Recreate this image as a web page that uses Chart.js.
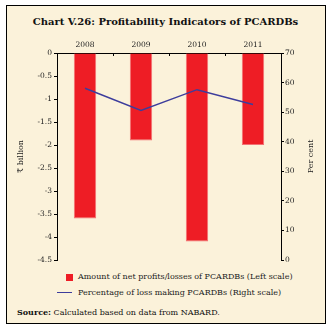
<!DOCTYPE html>
<html>
<head>
<meta charset="utf-8">
<title>Profitability Indicators of PCARDBs</title>
<script src="https://cdn.jsdelivr.net/npm/chart.js"></script>
<style>
    body { margin: 0; background: #fff; font-family: "DejaVu Serif", serif; }
    #box { position: absolute; left: 6px; top: 5px; width: 318px; height: 317px;
           border: 1px solid #000; background: #fbf2da; }
    #title { position: absolute; left: 0; top: 16px; width: 331px; text-align: center;
             font-weight: bold; font-size: 10px; color: #111; }
    #charts { position: absolute; left: 0; top: 0; }
    .leg { position: absolute; left: 78px; font-size: 8px; color: #222; line-height: 10px; }
    .swatch { position: absolute; }
    #source { position: absolute; left: 17px; top: 307px; font-size: 8px; color: #111; }
</style>
<script>
    // chart data
    const years = ['2008', '2009', '2010', '2011'];
    const netProfit = [-3.6, -1.9, -4.1, -2.0];        // ₹ billion, left scale
    const lossMakingPct = [58.1, 50.6, 57.6, 52.6];    // per cent, right scale
    const leftTicks = [0, -0.5, -1, -1.5, -2, -2.5, -3, -3.5, -4, -4.5];
    const rightTicks = [0, 10, 20, 30, 40, 50, 60, 70];

    const barLabel = 'Amount of net profits/losses of PCARDBs (Left scale)';
    const lineLabel = 'Percentage of loss making PCARDBs (Right scale)';
    const leftTitle = '₹ billion';
    const rightTitle = 'Per cent';

    const tickFont = { family: 'DejaVu Serif', size: 7.5 };

    // both axis titles read bottom to top
    const axisTitles = {
        id: 'axisTitles',
        afterDraw(chart) {
            const ctx = chart.ctx;
            const area = chart.chartArea;
            const midY = (area.top + area.bottom) / 2;
            ctx.save();
            ctx.fillStyle = '#222';
            ctx.font = '8px "DejaVu Serif"';
            ctx.textAlign = 'center';
            ctx.textBaseline = 'middle';
            [[21, leftTitle], [311, rightTitle]].forEach(function(t) {
                ctx.save();
                ctx.translate(t[0], midY);
                ctx.rotate(-Math.PI / 2);
                ctx.fillText(t[1], 0, 0);
                ctx.restore();
            });
            ctx.restore();
        }
    };

    function plainTick(value) {
        return String(value);
    }

    function createChart() {
        const ctx = document.getElementById('charts').getContext('2d');
        new Chart(ctx, {
            data: {
                labels: years,
                datasets: [{
                    type: 'line',
                    label: lineLabel,
                    data: lossMakingPct,
                    yAxisID: 'y1',
                    borderColor: '#3d3d9c',
                    borderWidth: 1.5,
                    pointRadius: 0,
                    tension: 0
                }, {
                    type: 'bar',
                    label: barLabel,
                    data: netProfit,
                    yAxisID: 'y',
                    backgroundColor: '#ee1d25',
                    borderColor: '#f27073',
                    borderWidth: 1,
                    barPercentage: 0.4,
                    categoryPercentage: 1
                }]
            },
            options: {
                responsive: false,
                animation: false,
                devicePixelRatio: 1,
                layout: { padding: { bottom: 10 } },
                plugins: { legend: { display: false }, tooltip: { enabled: false } },
                scales: {
                    x: {
                        position: 'top',
                        offset: true,
                        afterFit: function(s) { s.height = 53; },
                        border: { color: '#000', width: 1 },
                        grid: { offset: true, drawOnChartArea: false, tickLength: -3, color: '#000' },
                        ticks: { font: tickFont, color: '#222', padding: 6, maxRotation: 0 }
                    },
                    y: {
                        position: 'left',
                        min: -4.5,
                        max: 0,
                        afterFit: function(s) { s.width = 57; },
                        afterBuildTicks: function(s) { s.ticks = leftTicks.map(v => ({ value: v })); },
                        border: { color: '#000', width: 1 },
                        grid: { drawOnChartArea: false, tickLength: 3, color: '#000' },
                        ticks: { font: tickFont, color: '#222', padding: 2, callback: plainTick }
                    },
                    y1: {
                        position: 'right',
                        min: 0,
                        max: 70,
                        afterFit: function(s) { s.width = 50; },
                        afterBuildTicks: function(s) { s.ticks = rightTicks.map(v => ({ value: v })); },
                        border: { color: '#000', width: 1 },
                        grid: { drawOnChartArea: false, tickLength: 3, color: '#000' },
                        ticks: { font: tickFont, color: '#222', padding: 1, callback: plainTick }
                    }
                }
            },
            plugins: [axisTitles]
        });
    }

    document.addEventListener('DOMContentLoaded', function() {
        document.getElementById('barLeg').textContent = barLabel;
        document.getElementById('lineLeg').textContent = lineLabel;
        createChart();
    });
</script>
</head>
<body>
    <div id="box"></div>
    <div id="title">Chart V.26: Profitability Indicators of PCARDBs</div>
    <canvas id="charts" width="331" height="270"></canvas>
    <div class="swatch" style="left:66px; top:274px; width:7px; height:7px; background:#ee1d25;"></div>
    <div class="leg" id="barLeg" style="top:272px;"></div>
    <div class="swatch" style="left:57px; top:292px; width:15px; height:1px; background:#3d3d9c;"></div>
    <div class="leg" id="lineLeg" style="top:288px;"></div>
    <div id="source"><b>Source:</b> Calculated based on data from NABARD.</div>
</body>
</html>
